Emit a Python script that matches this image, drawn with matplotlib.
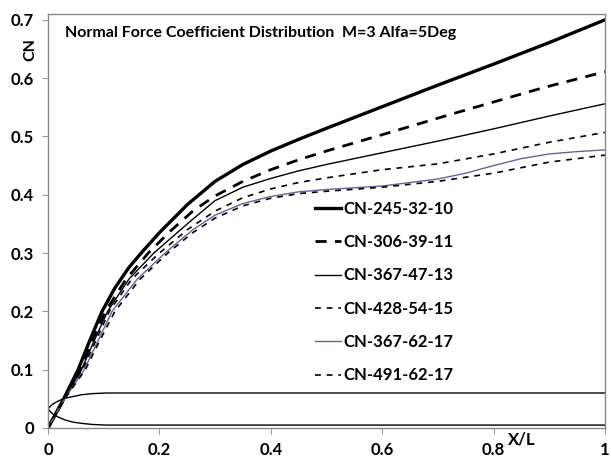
import numpy as np
import matplotlib
matplotlib.use("Agg")
import matplotlib.pyplot as plt

plt.rcParams["font.family"] = ["Lato", "DejaVu Sans"]
plt.rcParams["font.weight"] = "bold"

# CN distribution curves
x_245 = [0, 0.027, 0.054, 0.075, 0.097, 0.12, 0.145, 0.17, 0.2, 0.25, 0.3, 0.35, 0.4, 0.45,
         0.5, 0.6, 0.7, 0.8, 0.9, 1.0]
cn_245 = [0, 0.048, 0.10, 0.15, 0.20, 0.24, 0.275, 0.303, 0.335, 0.383, 0.423, 0.452, 0.475,
          0.495, 0.514, 0.551, 0.588, 0.624, 0.661, 0.70]

x_306 = [0, 0.027, 0.058, 0.08, 0.103, 0.14, 0.18, 0.22, 0.26, 0.3, 0.35, 0.4, 0.45, 0.5,
         0.6, 0.72, 0.887, 1.0]
cn_306 = [0, 0.046, 0.10, 0.15, 0.20, 0.255, 0.30, 0.338, 0.372, 0.398, 0.423, 0.443, 0.46,
          0.475, 0.503, 0.537, 0.583, 0.611]

x_367 = [0, 0.027, 0.06, 0.083, 0.107, 0.145, 0.19, 0.25, 0.3, 0.35, 0.4, 0.45, 0.5, 0.6,
         0.7, 0.8, 0.9, 1.0]
cn_367 = [0, 0.046, 0.10, 0.15, 0.20, 0.255, 0.30, 0.35, 0.39, 0.413, 0.428, 0.441, 0.452,
          0.472, 0.492, 0.513, 0.535, 0.556]

x_428 = [0, 0.027, 0.062, 0.086, 0.11, 0.15, 0.2, 0.25, 0.3, 0.35, 0.4, 0.45, 0.5, 0.6,
         0.7, 0.8, 0.9, 1.0]
cn_428 = [0, 0.046, 0.10, 0.15, 0.20, 0.255, 0.30, 0.34, 0.372, 0.395, 0.41, 0.421, 0.429,
          0.443, 0.453, 0.47, 0.49, 0.507]

x_367b = [0, 0.027, 0.065, 0.09, 0.115, 0.16, 0.21, 0.26, 0.3, 0.35, 0.4, 0.45, 0.5, 0.6,
          0.7, 0.75, 0.8, 0.85, 0.9, 0.95, 1.0]
cn_367b = [0, 0.046, 0.10, 0.15, 0.20, 0.255, 0.30, 0.34, 0.365, 0.385, 0.397, 0.405, 0.409,
           0.415, 0.427, 0.437, 0.45, 0.462, 0.47, 0.474, 0.477]

x_491 = [0, 0.027, 0.067, 0.093, 0.12, 0.165, 0.215, 0.26, 0.3, 0.35, 0.4, 0.45, 0.5, 0.6,
         0.7, 0.8, 0.9, 1.0]
cn_491 = [0, 0.046, 0.10, 0.15, 0.20, 0.255, 0.30, 0.335, 0.36, 0.381, 0.394, 0.402, 0.406,
          0.413, 0.423, 0.437, 0.456, 0.468]

# body outline
body_x = [0, 0.005, 0.01, 0.02, 0.03, 0.045, 0.06, 0.08, 0.105, 1.0]
body_upper = [0.033, 0.038, 0.042, 0.047, 0.051, 0.054, 0.057, 0.059, 0.060, 0.060]
body_lower = [0.033, 0.027, 0.023, 0.018, 0.014, 0.010, 0.008, 0.006, 0.005, 0.005]

xticks = [0, 0.2, 0.4, 0.6, 0.8, 1.0]
xtick_labels = ["0", "0.2", "0.4", "0.6", "0.8", "1"]
yticks = [0, 0.1, 0.2, 0.3, 0.4, 0.5, 0.6, 0.7]
ytick_labels = ["0", "0.1", "0.2", "0.3", "0.4", "0.5", "0.6", "0.7"]

fig = plt.figure(figsize=(6.11, 4.61), dpi=100)
ax = fig.add_axes([0.0786, 0.0716, 0.9114, 0.898])

ax.plot(x_245, cn_245, color="black", lw=2.4, label="CN-245-32-10")
ax.plot(x_306, cn_306, color="black", lw=2.0, dashes=(4, 3), label="CN-306-39-11")
ax.plot(x_367, cn_367, color="black", lw=1.0, label="CN-367-47-13")
ax.plot(x_428, cn_428, color="black", lw=1.2, dashes=(3.5, 3.5), label="CN-428-54-15")
ax.plot(x_367b, cn_367b, color="#6f5e96", lw=1.0, label="CN-367-62-17")
ax.plot(x_491, cn_491, color="black", lw=1.2, dashes=(3.5, 3.5), label="CN-491-62-17")

ax.plot(body_x, body_upper, color="black", lw=1.0)
ax.plot(body_x, body_lower, color="black", lw=1.0)

ax.set_xlim(0, 1)
ax.set_ylim(0, 0.71)
ax.set_xticks(xticks)
ax.set_xticklabels(xtick_labels)
ax.set_yticks(yticks)
ax.set_yticklabels(ytick_labels)
ax.tick_params(direction="out", length=4, color="#999999", labelsize=12, pad=6)

for s in ax.spines.values():
    s.set_color("#888888")
    s.set_linewidth(1.0)

ax.text(0.03, 0.955, "Normal Force Coefficient Distribution  M=3 Alfa=5Deg",
        transform=ax.transAxes, fontsize=11.5, fontweight="bold", va="center")
ax.text(-0.032, 0.915, "CN", transform=ax.transAxes, rotation=90, fontsize=11.5,
        fontweight="bold", ha="center", va="center")
ax.text(0.851, -0.029, "X/L", transform=ax.transAxes, fontsize=12,
        fontweight="bold", ha="center", va="center")

ax.legend(loc="upper left", bbox_to_anchor=(0.452, 0.585), frameon=False,
          handlelength=1.6, handletextpad=0.1, labelspacing=1.04,
          prop={"weight": "bold", "size": 12})

fig.savefig("out.png", dpi=100)
